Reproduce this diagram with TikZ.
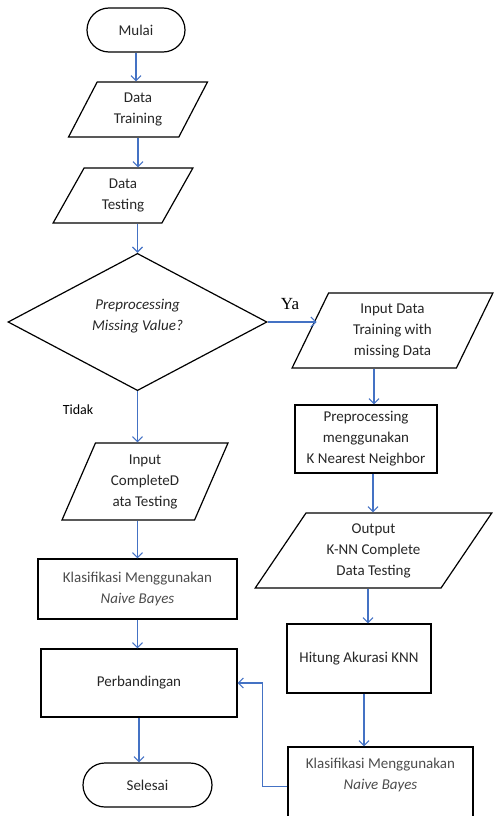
\documentclass[tikz,border=0pt]{standalone}
\usepackage{fontspec}
\setmainfont{Carlito}
\newfontfamily\yafont{Liberation Serif}
\usetikzlibrary{shapes.geometric,shapes.misc,arrows.meta}

\definecolor{arrowblue}{RGB}{68,114,196}

\tikzset{
  flow/.style={draw, line width=1.2pt, text=black!85, align=center,
    font=\fontsize{15}{21}\selectfont, inner sep=0pt},
  term/.style={flow, rounded rectangle, minimum width=#1, minimum height=44},
  proc/.style={flow, rectangle, minimum width=#1},
  iobox/.style={flow, trapezium, trapezium stretches=true},
  decision/.style={flow, diamond, minimum width=259, minimum height=130},
  arr/.style={draw=arrowblue, line width=1.1pt, -{Straight Barb[length=5pt,width=10pt]}}
}

\begin{document}
\begin{tikzpicture}[x=1pt, y=-1pt]
\useasboundingbox (0,0) rectangle (493,816);

% ----------------------------------------------------------
% Left column
% ----------------------------------------------------------
\node[term=98] (mulai) at (136,30) {Mulai};
\node[iobox, trapezium left angle=63, trapezium right angle=117,
  minimum width=140, minimum height=55] (train) at (138,109.5) {Data\\Training};
\node[iobox, trapezium left angle=63, trapezium right angle=117,
  minimum width=140, minimum height=55] (test) at (123,195.5) {Data\\Testing};
\node[decision] (cek) at (137.5,322) {\textit{Preprocessing}\\\textit{Missing Value?}\\[-6pt]\mbox{}};
\node[iobox, trapezium left angle=67, trapezium right angle=113,
  minimum width=166, minimum height=77] (incomp) at (145,481.5) {Input\\CompleteD\\ata Testing};
\node[proc=199, minimum height=60, text=black!70] (nbcomp) at (137.5,589)
  {Klasifikasi Menggunakan\\\textit{Naive Bayes}};
\node[proc=196, minimum height=68] (banding) at (139,683) {Perbandingan};
\node[term=129] (selesai) at (147.5,785) {Selesai};

% ----------------------------------------------------------
% Right column
% ----------------------------------------------------------
\node[iobox, trapezium left angle=67.5, trapezium right angle=112.5,
  minimum width=201, minimum height=75] (inmiss) at (392.5,330.5)
  {Input Data\\Training with\\missing Data};
\node[proc=142, minimum height=68] (knn) at (366,439)
  {Preprocessing\\menggunakan\\K Nearest Neighbor};
\node[iobox, trapezium left angle=57, trapezium right angle=123,
  minimum width=237, minimum height=75] (outknn) at (373.5,550.5)
  {Output\\K-NN Complete\\Data Testing};
\node[proc=144, minimum height=69] (akurasi) at (359,658.5) {Hitung Akurasi KNN};
\node[proc=185, minimum height=75, text=black!70] (nbknn) at (380.5,784.5)
  {Klasifikasi Menggunakan\\\textit{Naive Bayes}\\\mbox{}};

% labels
\node (ya) at (290,304) {\yafont\fontsize{17}{20}\selectfont Ya};
\node (tidak) at (78,410) {\fontsize{14}{17}\selectfont Tidak};

% ----------------------------------------------------------
% Connectors
% ----------------------------------------------------------
\draw[arr] (mulai.south) -- (mulai.south |- train.north);
\draw[arr] (train.south) -- (train.south |- test.north);
\draw[arr] (cek.north |- test.south) -- (cek.north);
\draw[arr] (cek.south) -- (cek.south |- incomp.north);
\draw[arr] (nbcomp.north |- incomp.south) -- (nbcomp.north);
\draw[arr] (nbcomp.south) -- (nbcomp.south |- banding.north);
\draw[arr] (banding.south) -- (banding.south |- selesai.north);

\draw[arr] (cek.east) -- ([xshift=7]cek.east -| inmiss.west);
\draw[arr] ([xshift=8]knn.north |- inmiss.south) -- ([xshift=8]knn.north);
\draw[arr] ([xshift=7]knn.south) -- ([xshift=7]knn.south |- outknn.north);
\draw[arr] ([xshift=9]akurasi.north |- outknn.south) -- ([xshift=9]akurasi.north);
\draw[arr] ([xshift=5]akurasi.south) -- ([xshift=5]akurasi.south |- nbknn.north);
\draw[arr] ([yshift=-2]nbknn.west) -- ++(-25,0) |- (banding.east);

\end{tikzpicture}
\end{document}
